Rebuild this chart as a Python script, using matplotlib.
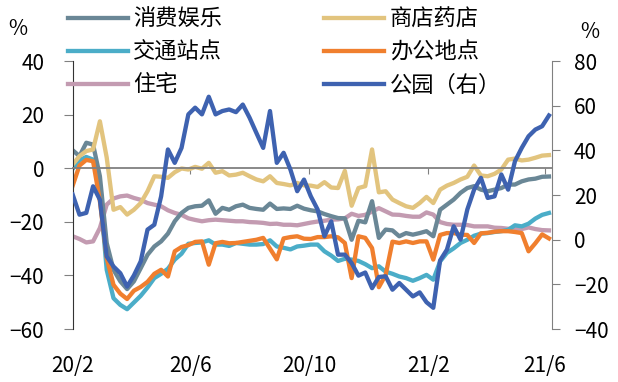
import numpy as np
import pandas as pd
import matplotlib
matplotlib.use("Agg")
import matplotlib.pyplot as plt

plt.rcParams['font.family'] = ['Noto Sans CJK SC', 'DejaVu Sans']

# weekly points starting 2020-02-15
start = pd.Timestamp('2020-02-15')
dates = pd.date_range(start, periods=71, freq='7D')

retail_rec = [6.7, 4.5, 9.5, 8.8, -3, -27.9, -37.9, -42.2, -45.1, -42.2, -37.3, -32.3, -29.2, -27.3,
              -24.4, -19.8, -16.7, -14.8, -14.2, -14, -12, -17, -14.8, -15.5, -14.2, -13.6, -14.8,
              -15.2, -15.5, -13.2, -15.2, -15, -15.2, -14,
              -15.1, -15.7, -16.1, -17.1, -17.9, -18.6, -18.7, -26.7, -19.6, -20.2, -12.3, -26, -22.9,
              -23.2, -25.4, -24.2, -24.8, -24.2, -23.5, -25.4, -15.5, -13.6, -11.7, -9.2, -7.4, -6.7,
              -8, -8.6, -8, -7.4, -6.1, -6.1, -4.9, -4.2, -3.9, -3.2, -3.1]
grocery = [1.4, 4.5, 6.4, 7, 17.5, 4, -15.5, -14.5, -17.3, -15.5, -13, -8.6, -3, -3.2, -3.6, -1.5,
           -0.1, -0.5, 0.5, -0.2, 2, -1.7, -1.1, -2.7, -2.4, -1.7, -3, -4.2, -4.9, -3, -5.5, -5.9,
           -6.4, -5.5,
           -6.4, -6.5, -7, -5.2, -7.2, -7.4, -1, -14, -7.4, -6.7, 7, -9, -8.6, -11.7, -13, -14.2,
           -14.8, -13, -10.7, -13, -8, -6.5, -5.5, -4.2, -3.2, 1, -2.7, -3, -2.1, -0.5, 3.2, 3.6,
           2.9, 3.2, 3.9, 4.7, 4.9]
transit = [-0.2, 3, 4.2, 3.2, -8.6, -37.9, -48.5, -51, -52.6, -50.1, -47.6, -44.5, -41, -39.4,
           -37.5, -34.1, -31.9, -28.2, -27.9, -27.7, -26.9, -28.5, -28.5, -29, -27.9, -28.2, -28.5,
           -28.5, -28.3, -26.9, -29.2, -29.7, -30.3, -29.2,
           -28.9, -28.5, -28.5, -31, -32.6, -34.6, -33.8, -34.1, -34.6, -35.8, -37.3, -36.6, -38.6,
           -39.4, -40.4, -41, -42, -41, -39.8, -41.6, -34.8, -31.6, -29.9, -27.9, -26.7, -25.2,
           -24.4, -24.2, -23.8, -23.5, -23, -21.3, -21.7, -20.7, -18.8, -17.4, -16.7]
workplace = [-6.5, 1, 3.1, 2.6, -12.3, -33.5, -43.5, -46.8, -48.8, -45.7, -44.3, -42.4, -39.4,
             -37.9, -40.4, -31, -29.4, -28.7, -27.5, -27.3, -36, -28, -27.5, -28, -27.9, -27.5,
             -27.1, -26.7, -26, -30, -34, -26.2, -25.7, -25.4,
             -26.3, -26.4, -25.7, -25.7, -25.4, -25.8, -27.9, -41, -25.4, -26, -29.8, -44.4, -39.8,
             -27.4, -27.9, -27.3, -27.9, -27.3, -27.3, -34.1, -24.9, -24.2, -24.2, -24.8, -24.9,
             -27.9, -24.3, -24.1, -23.7, -23.5, -23.5, -23.8, -24.2, -31, -28, -24.7, -26.2]
residential = [-25.4, -26.4, -27.7, -27.3, -22.3, -13.6, -11.3, -10.5, -10.2, -11.1, -11.8, -13,
               -13.6, -14.2, -15.7, -16.7, -17.4, -18.7, -19.3, -19.8, -19.4, -19.2, -19.4, -19.6,
               -19.8, -19.8, -20.1, -20.2, -20.4, -20.8, -20.7, -21.1, -21.1, -21.3,
               -20.8, -20.3, -19.9, -19.6, -19.2, -19.1, -18.7, -17, -17.8, -17.4, -16.2, -14.9,
               -16.1, -17.3, -17.4, -17.8, -18.1, -18.1, -16.5, -17.3, -20.1, -20.8, -21.1, -21.1,
               -21.2, -21.7, -21.7, -21.7, -22.2, -22.3, -22.6, -22.7, -22.7, -22.1, -22.7, -23.1,
               -23.2]
parks = [20.2, 11.2, 12.0, 23.9, 17.9, -7.5, -12, -15, -21, -16, -9.7, 4.5, 6.7, 19.4, 40.4, 34.4,
         41.1, 56.1, 59.1, 56.1, 64, 56.1, 57.6, 58.3, 57.1, 60.5, 54.6, 47.8, 41.1, 57.6, 34.4,
         38.9, 31.4, 21.7,
         26.9, 19.4, 13.5, 1.5, 8.2, -6.7, -6.7, -10.5, -16.1, -14.7, -21.7, -16.7, -16.4, -22.4,
         -19.4, -22.4, -25.4, -23.6, -28, -30.5, -9.3, -4.5, 6, 0, 13.5, 22.4, 27.7, 18.7, 19.4,
         29.2, 22.4, 35.1, 41.1, 46.3, 49.3, 50.8, 55.6]

tick_dates = pd.to_datetime(['2020-02-15', '2020-06-15', '2020-10-15', '2021-02-15', '2021-06-15'])
tick_labels = ['20/2', '20/6', '20/10', '21/2', '21/6']

days = (dates - start).days.values
tick_days = (tick_dates - start).days.values

c_rec = '#6A8796'
c_gro = '#E2C47E'
c_tra = '#4BADC8'
c_wor = '#F07F2E'
c_res = '#C39BB1'
c_par = '#3E62B0'
lw = 3.1

fig = plt.figure(figsize=(6.18, 3.82), dpi=100)
ax = fig.add_axes([0.1176, 0.1387, 0.7754, 0.7016])
ax2 = ax.twinx()

l_res, = ax.plot(days, residential, color=c_res, lw=lw, label='住宅')
l_tra, = ax.plot(days, transit, color=c_tra, lw=lw, label='交通站点')
l_rec, = ax.plot(days, retail_rec, color=c_rec, lw=lw, label='消费娱乐')
l_gro, = ax.plot(days, grocery, color=c_gro, lw=lw, label='商店药店')
l_wor, = ax.plot(days, workplace, color=c_wor, lw=lw, label='办公地点')
l_par, = ax2.plot(days, parks, color=c_par, lw=lw, label='公园（右）')

ax.set_xlim(0, 493)
ax.set_ylim(-60, 40)
ax2.set_ylim(-40, 80)
ax.set_yticks(np.arange(-60, 41, 20))
ax2.set_yticks(np.arange(-40, 81, 20))

for a in (ax, ax2):
    a.spines['top'].set_visible(False)
    a.spines['bottom'].set_visible(False)
ax.spines['right'].set_visible(False)
ax2.spines['left'].set_visible(False)
ax.spines['left'].set_color('#333333')
ax2.spines['right'].set_color('#808080')

# zero line acting as x axis
ax.spines['bottom'].set_visible(True)
ax.spines['bottom'].set_position(('data', 0))
ax.spines['bottom'].set_color('#808080')
ax.spines['bottom'].set_linewidth(1.3)
ax.set_xticks(tick_days)
ax.tick_params(axis='x', direction='out', length=4, color='#808080', labelbottom=False)

ax.tick_params(axis='y', direction='out', length=6.5, color='#808080', labelsize=15, pad=14)
ax2.tick_params(axis='y', direction='out', length=6, color='#808080', labelsize=15, pad=10)

secax = ax.secondary_xaxis('bottom')
secax.set_xticks(tick_days, labels=tick_labels)
secax.tick_params(length=0, labelsize=15, pad=19)
secax.spines['bottom'].set_visible(False)

handles = [l_rec, l_tra, l_res, l_gro, l_wor, l_par]
fig.legend(handles=handles, labels=[h.get_label() for h in handles], ncol=2,
           loc='upper left', bbox_to_anchor=(0.095, 1.004), frameon=False,
           fontsize=16, handlelength=2.7, handletextpad=0.25, columnspacing=4.6,
           labelspacing=0.45, borderaxespad=0)

fig.text(18 / 618, 1 - 29 / 382, '%', fontsize=15, ha='center', va='center')
fig.text(590 / 618, 1 - 32 / 382, '%', fontsize=15, ha='center', va='center')

fig.savefig('out.png', dpi=100)
